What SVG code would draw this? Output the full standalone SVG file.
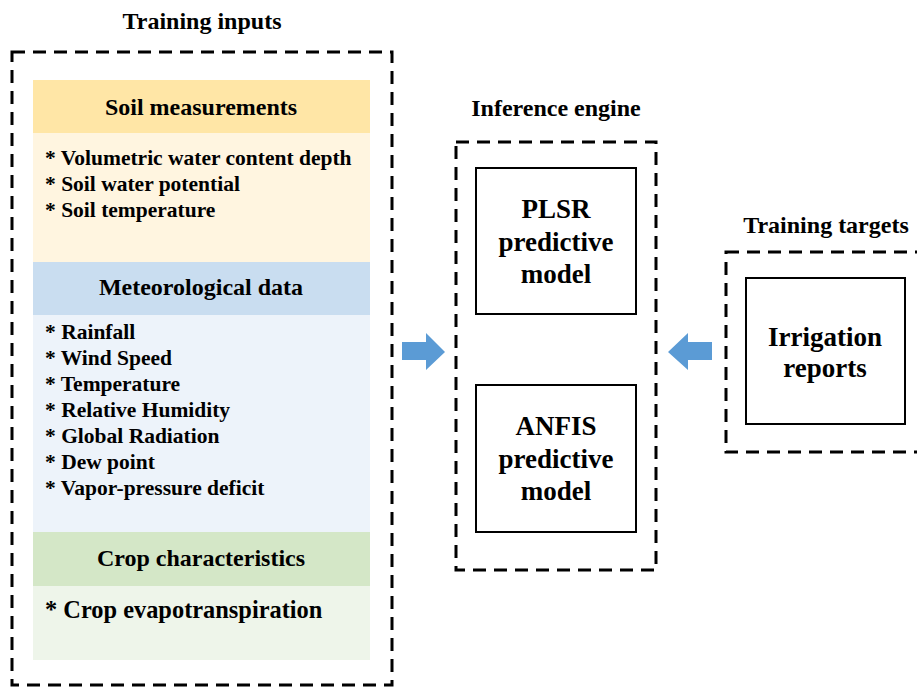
<svg xmlns="http://www.w3.org/2000/svg" width="917" height="689" viewBox="0 0 917 689">
<style>
text{font-family:'Liberation Serif','Times New Roman',Tinos,'DejaVu Serif',serif;font-weight:700;fill:#000}
.title{font-size:24px;text-anchor:middle}
.hdr{font-size:24px;text-anchor:middle}
.item{font-size:21.5px}
.big{font-size:27px;text-anchor:middle}
.dash{fill:none;stroke:#000;stroke-width:3;stroke-dasharray:13 8}
.box{fill:#fff;stroke:#000;stroke-width:2}
.arrow{fill:#5B9BD5}
</style>
<rect width="917" height="689" fill="#fff"/>
<g id="training-inputs">
<text class="title" x="202" y="29">Training inputs</text>
<rect class="dash" x="12" y="52" width="380" height="633"/>
<g id="soil">
<rect x="33" y="80" width="337" height="53" fill="#FFE6A6"/>
<rect x="33" y="133" width="337" height="129" fill="#FFF5E0"/>
<text class="hdr" x="201" y="115">Soil measurements</text>
<text class="item" x="45" y="165">* Volumetric water content depth</text>
<text class="item" x="45" y="191">* Soil water potential</text>
<text class="item" x="45" y="217">* Soil temperature</text>
</g>
<g id="meteo">
<rect x="33" y="262" width="337" height="53" fill="#C9DDF0"/>
<rect x="33" y="315" width="337" height="217" fill="#EDF3FA"/>
<text class="hdr" x="201" y="295">Meteorological data</text>
<text class="item" x="45" y="339">* Rainfall</text>
<text class="item" x="45" y="365">* Wind Speed</text>
<text class="item" x="45" y="391">* Temperature</text>
<text class="item" x="45" y="417">* Relative Humidity</text>
<text class="item" x="45" y="443">* Global Radiation</text>
<text class="item" x="45" y="469">* Dew point</text>
<text class="item" x="45" y="495">* Vapor-pressure deficit</text>
</g>
<g id="crop">
<rect x="33" y="532" width="337" height="54" fill="#D4E7C7"/>
<rect x="33" y="586" width="337" height="74" fill="#EEF5EA"/>
<text class="hdr" x="201" y="566">Crop characteristics</text>
<text class="item" x="45" y="618" style="font-size:24.4px">* Crop evapotranspiration</text>
</g>
</g>
<g id="inference-engine">
<text class="title" x="556" y="116">Inference engine</text>
<rect class="dash" x="456" y="142" width="200" height="428"/>
<g id="plsr">
<rect class="box" x="476" y="168" width="160" height="146"/>
<text class="big" x="556" y="218">PLSR</text>
<text class="big" x="556" y="251">predictive</text>
<text class="big" x="556" y="283">model</text>
</g>
<g id="anfis">
<rect class="box" x="476" y="385" width="160" height="147"/>
<text class="big" x="556" y="435">ANFIS</text>
<text class="big" x="556" y="468">predictive</text>
<text class="big" x="556" y="500">model</text>
</g>
</g>
<g id="training-targets">
<text class="title" x="826" y="233">Training targets</text>
<rect class="dash" x="726" y="252" width="200" height="200"/>
<g id="irrigation">
<rect class="box" x="746" y="278" width="159" height="146"/>
<text class="big" x="825" y="346">Irrigation</text>
<text class="big" x="825" y="377">reports</text>
</g>
</g>
<g id="connectors">
<polygon class="arrow" points="402,342 426,342 426,333 445,352 426,370 426,360 402,360"/>
<polygon class="arrow" points="712,342 688,342 688,333 668,352 688,370 688,360 712,360"/>
</g>
</svg>
